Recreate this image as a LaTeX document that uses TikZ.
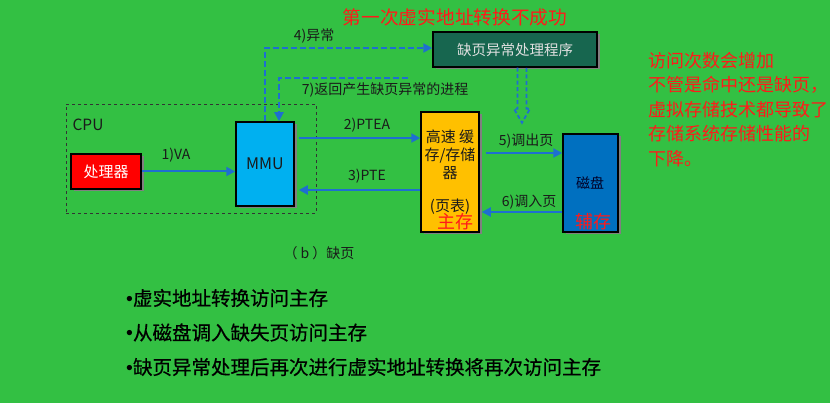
\documentclass[tikz,border=0pt]{standalone}
\usepackage{fontspec}
\setmainfont{Noto Sans CJK SC}
\newfontfamily\dotfont{Liberation Sans}
\newfontfamily\heavycjk[FakeBold=0.6]{Noto Sans CJK SC}
\usepackage{tikz}
\usetikzlibrary{arrows.meta,positioning,calc,shadows}
\definecolor{bgC}      {HTML}{33C043}
\definecolor{flowC}    {HTML}{1E6FD0}
\definecolor{procFill} {HTML}{FF0000}
\definecolor{mmuFill}  {HTML}{00B0F0}
\definecolor{cacheFill}{HTML}{FFC000}
\definecolor{diskFill} {HTML}{0070C0}
\definecolor{handFill} {HTML}{17664F}
\definecolor{noteC}    {HTML}{FF1A1A}
\definecolor{labelC}   {HTML}{1A1A1A}
\tikzset{
  >={Triangle[length=9pt,width=9pt]},
  unitBox/.style={draw=black,line width=1.5pt,inner sep=0pt,align=center,
                  drop shadow={shadow xshift=2.5pt,shadow yshift=-2.5pt,
                               fill=black!50,opacity=1}},
  procBox/.style={unitBox,fill=procFill,text=white,
                  font=\fontsize{15}{18}\selectfont},
  mmuBox/.style={unitBox,fill=mmuFill,text=labelC,
                 font=\fontsize{16}{18}\selectfont},
  cacheBox/.style={unitBox,fill=cacheFill},
  diskBox/.style={unitBox,fill=diskFill},
  handBox/.style={unitBox,fill=handFill,text=white!88!black,
                  font=\fontsize{14.5}{17}\selectfont},
  flow/.style={->,line width=2pt,flowC},
  dashFlow/.style={->,line width=2pt,flowC,dash pattern=on 6pt off 3pt},
  hollowDash/.style={line width=1.8pt,flowC,dash pattern=on 4pt off 2.5pt,
                     line join=miter},
  stepLabel/.style={font=\fontsize{14}{16}\selectfont,text=labelC,inner sep=0pt},
  boxText/.style={font=\fontsize{15}{18}\selectfont,text=labelC,inner sep=0pt},
  redNote/.style={font=\fontsize{18}{22}\selectfont,text=noteC,inner sep=0pt},
  bulletTxt/.style={font=\fontsize{19.5}{23}\heavycjk,text=black,
                    anchor=west,inner sep=0pt},
}

\begin{document}
\begin{tikzpicture}[x=1pt,y=-1pt]
\useasboundingbox (0,0) rectangle (830,403);
\fill[bgC] (0,0) rectangle (830,403);

% CPU part: processor and MMU in a dashed frame.
\node[draw=black!80,dashed,line width=0.9pt,minimum width=250pt,
      minimum height=109pt,inner sep=0pt] (cpuBox) at (191,158.5) {};
\node[font=\fontsize{15.5}{18}\selectfont,text=labelC,inner sep=0pt]
  (cpuLbl) at (88,125) {CPU};
\node[procBox,minimum width=70pt,minimum height=35pt] (proc) at (106,171.5) {处理器};
\node[mmuBox,minimum width=58pt,minimum height=84pt] (mmu) at (265,164) {MMU};

% Memory, disk and the page fault handler.
\node[cacheBox,minimum width=58pt,minimum height=120pt] (cache) at (450,172) {};
\node[boxText,align=center] (cacheTxt) at (450,155) {高速 缓\\存/存储\\器};
\node[boxText] (pgTbl) at (450,207) {(页表)};
\node[redNote] (mainMem) at (455,222) {主存};

\node[diskBox,minimum width=55pt,minimum height=98pt] (disk) at (590.5,183) {};
\node[stepLabel,text=black!85!blue] (diskTxt) at (590,183) {磁盘};
\node[redNote] (auxMem) at (593,222) {辅存};

\node[handBox,minimum width=164pt,minimum height=35pt] (handler) at (515,49.5)
  {缺页异常处理程序};

% Solid flows.
\draw[flow] (proc.east) -- (proc.east -| mmu.west);
\coordinate (pteaOut) at ([xshift=4pt,yshift=26pt]mmu.east);
\coordinate (pteIn)   at ([xshift=4pt,yshift=-26pt]mmu.east);
\draw[flow] (pteaOut) -- (pteaOut -| cache.west);
\draw[flow] (pteIn -| cache.west) -- (pteIn);
\coordinate (pgOut) at ([xshift=6pt,yshift=19pt]cache.east);
\coordinate (pgIn)  at ([xshift=2pt,yshift=-40pt]cache.east);
\draw[flow] (pgOut) -- (pgOut -| disk.west);
\draw[flow] (pgIn -| disk.west) -- (pgIn);

% Dashed flows for the fault and the return.
\draw[dashFlow] (mmu.north) |- ([yshift=1.5pt]handler.west);
\coordinate (retStart) at (408,78);
\draw[dashFlow] (retStart) -| ([xshift=14pt]mmu.north);

% Hollow dashed arrow below the handler.
\coordinate (dropTop) at ([xshift=7pt]handler.south);
\draw[hollowDash] ([xshift=-4.5pt]dropTop) -- ++(0,41) -- ++(-3.5,0)
  -- ++(8,14) -- ++(8,-14) -- ++(-3.5,0) -- ++(0,-41);

% Step labels.
\node[stepLabel] (lblVA)   at (176,155) {1)VA};
\node[stepLabel] (lblPTEA) at (367,125) {2)PTEA};
\node[stepLabel] (lblPTE)  at (367,176) {3)PTE};
\node[stepLabel] (lblExc)  at (314,36)  {4)异常};
\node[stepLabel] (lblOut)  at (526,141) {5)调出页};
\node[stepLabel] (lblIn)   at (529,202) {6)调入页};
\node[stepLabel] (lblRet)  at (385,90)  {7)返回产生缺页异常的进程};
\node[stepLabel] (caption) at (319,253) {（ b ）缺页};

% Red notes.
\node[font=\fontsize{18.7}{22}\selectfont,text=noteC,inner sep=0pt]
  (title) at (455,17) {第一次虚实地址转换不成功};
\node[font=\fontsize{18}{24.5}\selectfont,text=noteC,inner sep=0pt,
      align=left,anchor=north west] (remark) at (648,52)
  {访问次数会增加\\不管是命中还是缺页，\\虚拟存储技术都导致了\\存储系统存储性能的\\下降。};

% Bullet list.
\foreach \txt [count=\k] in {虚实地址转换访问主存,从磁盘调入缺失页访问主存,
    缺页异常处理后再次进行虚实地址转换将再次访问主存} {
  \node[bulletTxt] (pt\k) at (126,263.5+34.5*\k) {{\dotfont •}\txt};
}

\end{tikzpicture}
\end{document}
